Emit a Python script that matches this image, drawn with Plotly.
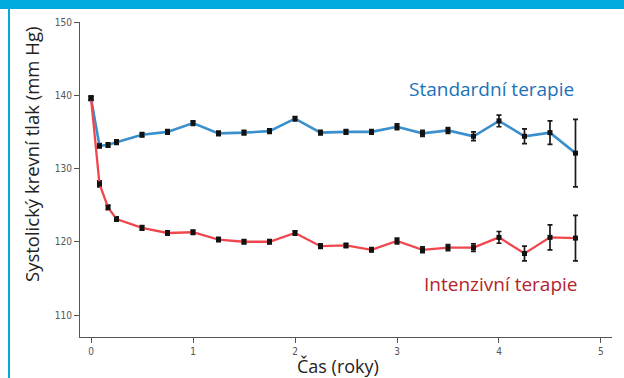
import plotly.graph_objects as go

# Data
time_years = [0, 0.083, 0.167, 0.25, 0.5, 0.75, 1.0, 1.25, 1.5, 1.75, 2.0, 2.25, 2.5,
              2.75, 3.0, 3.25, 3.5, 3.75, 4.0, 4.25, 4.5, 4.75]
standard_bp = [139.6, 133.1, 133.2, 133.6, 134.6, 135.0, 136.2, 134.8, 134.9, 135.1, 136.8,
               134.9, 135.0, 135.0, 135.7, 134.8, 135.2, 134.4, 136.5, 134.4, 134.9, 132.1]
standard_err = [0.3, 0.3, 0.3, 0.3, 0.3, 0.3, 0.3, 0.3, 0.3, 0.3, 0.3,
                0.3, 0.3, 0.3, 0.4, 0.4, 0.4, 0.6, 0.8, 1.0, 1.6, 4.6]
intensive_bp = [139.6, 127.9, 124.7, 123.1, 121.9, 121.2, 121.3, 120.3, 120.0, 120.0, 121.2,
                119.4, 119.5, 118.9, 120.1, 118.9, 119.2, 119.2, 120.6, 118.4, 120.6, 120.5]
intensive_err = [0.3, 0.4, 0.3, 0.3, 0.3, 0.3, 0.3, 0.3, 0.3, 0.3, 0.3,
                 0.3, 0.3, 0.3, 0.4, 0.4, 0.4, 0.5, 0.8, 1.0, 1.7, 3.1]
x_ticks = [0, 1, 2, 3, 4, 5]
y_ticks = [110, 120, 130, 140, 150]

W, H = 624, 378
L, R, T, B = 80, 12, 22, 41
PW, PH = W - L - R, H - T - B


def px(x):
    return (x - L) / PW


def py(y):
    return (H - B - y) / PH


fig = go.Figure()
fig.add_trace(go.Scatter(
    x=time_years, y=standard_bp, mode="lines+markers", name="Standardní terapie",
    line=dict(color="#3a8fcc", width=2.6),
    marker=dict(symbol="square", size=5, color="#111111"),
    error_y=dict(type="data", array=standard_err, color="#1a1a1a", thickness=1.7, width=2.5),
))
fig.add_trace(go.Scatter(
    x=time_years, y=intensive_bp, mode="lines+markers", name="Intenzivní terapie",
    line=dict(color="#f0474e", width=2.3),
    marker=dict(symbol="square", size=5, color="#111111"),
    error_y=dict(type="data", array=intensive_err, color="#1a1a1a", thickness=1.7, width=2.5),
))

tick_font = dict(family="DejaVu Sans Condensed, Liberation Sans Narrow, DejaVu Sans, sans-serif",
                 size=10, color="#555555")
label_font = "Open Sans, Noto Sans, sans-serif"

fig.update_layout(
    width=W, height=H,
    margin=dict(l=L, r=R, t=T, b=B),
    paper_bgcolor="white", plot_bgcolor="white",
    showlegend=False,
    xaxis=dict(range=[-0.108, 5.108], tickvals=x_ticks, showgrid=False, zeroline=False,
               showline=True, linecolor="#555555", linewidth=1.2,
               ticks="outside", ticklen=5, tickcolor="#555555", tickfont=tick_font),
    yaxis=dict(range=[107, 150], tickvals=y_ticks, showgrid=False, zeroline=False,
               showline=True, linecolor="#555555", linewidth=1.2,
               ticks="outside", ticklen=5, tickcolor="#555555", tickfont=tick_font),
    shapes=[
        dict(type="rect", xref="paper", yref="paper", x0=px(0), x1=px(W), y0=py(9), y1=py(0),
             fillcolor="#00a9de", line=dict(width=0), layer="above"),
        dict(type="rect", xref="paper", yref="paper", x0=px(8), x1=px(10), y0=py(H), y1=py(0),
             fillcolor="#00a9de", line=dict(width=0), layer="above"),
    ],
    annotations=[
        dict(text="Systolický krevní tlak (mm Hg)", xref="paper", yref="paper",
             x=px(31), y=py(155), textangle=-90, showarrow=False,
             xanchor="center", yanchor="middle",
             font=dict(family=label_font, size=18.5, color="#222222")),
        dict(text="Čas (roky)", xref="paper", yref="paper",
             x=px(338), y=py(366), showarrow=False,
             xanchor="center", yanchor="middle",
             font=dict(family=label_font, size=18, color="#222222")),
        dict(text="Standardní terapie", xref="paper", yref="paper",
             x=px(576), y=py(89), xanchor="right", yanchor="middle", showarrow=False,
             font=dict(family=label_font, size=19, color="#1b72b8")),
        dict(text="Intenzivní terapie", xref="paper", yref="paper",
             x=px(579), y=py(284), xanchor="right", yanchor="middle", showarrow=False,
             font=dict(family=label_font, size=19, color="#b3242c")),
    ],
)

fig.write_html("out.html", config={"displayModeBar": False},
               post_script="document.body.style.margin='0';")
